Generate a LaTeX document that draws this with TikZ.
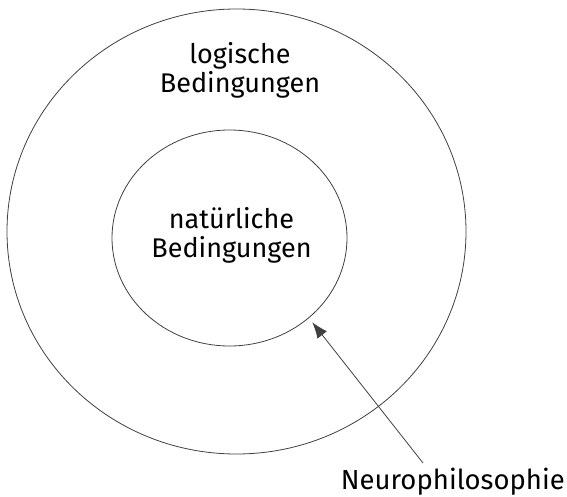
\documentclass[tikz,border=0pt]{standalone}
\usepackage{fontspec}
\setmainfont{Fira Sans}
\usetikzlibrary{arrows.meta,shapes.geometric}
\begin{document}
\begin{tikzpicture}[x=1pt,y=-1pt,
  ring/.style={draw=black!75,line width=0.8pt,ellipse,inner sep=0pt},
  lbl/.style={align=center,font=\fontsize{27}{29}\selectfont,inner sep=0pt}]
\useasboundingbox (0,0) rectangle (567,497);
\node[ring,minimum width=459pt,minimum height=445pt] (outer) at (236.5,231.5) {};
\node[ring,minimum width=235pt,minimum height=216pt] (inner) at (229.5,238) {};
\node[lbl,anchor=base] (log) at (240,93) {logische\\Bedingungen};
\node[lbl,anchor=base] (nat) at (231.5,257) {natürliche\\Bedingungen};
\node[lbl,anchor=base east,font=\fontsize{27.5}{29}\selectfont] (neuro) at (565,489) {Neurophilosophie};
\coordinate (tail) at (423,463);
\draw[line width=0.8pt,draw=black!75,-{Latex[length=16pt,width=12pt]}] (tail) -- ([shift={(3pt,-4.5pt)}]inner.-45);
\end{tikzpicture}
\end{document}
